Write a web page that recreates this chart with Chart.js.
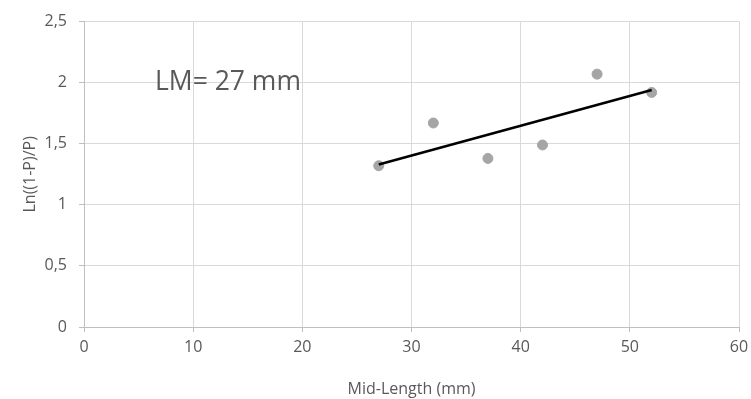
<!DOCTYPE html>
<html>
<head>
<meta charset="utf-8">
<script src="https://cdn.jsdelivr.net/npm/chart.js@4.4.0/dist/chart.umd.min.js"></script>
<style>
    html, body { margin: 0; padding: 0; background: #fff; }
    #wrap { width: 751px; height: 399px; }
</style>
</head>
<body>
<div id="wrap"><canvas id="chart" width="751" height="399"></canvas></div>
<script>
const midLengths = [27, 32, 37, 42, 47, 52];
const lnValues = [1.32, 1.67, 1.38, 1.49, 2.07, 1.92];
const trendX = [27, 52];
const trendY = [1.33, 1.94];
const xTicks = [0, 10, 20, 30, 40, 50, 60];
const yTicks = [0, 0.5, 1, 1.5, 2, 2.5];
const noteText = 'LM= 27 mm';

const font = "'Open Sans', 'DejaVu Sans', sans-serif";
const grey = '#595959';

const notePlugin = {
    id: 'note',
    afterDatasetsDraw(chart) {
        const ctx = chart.ctx;
        const x = chart.scales.x.getPixelForValue(6.5);
        const y = chart.scales.y.getPixelForValue(2.0);
        ctx.save();
        ctx.font = '26.5px ' + font;
        ctx.fillStyle = grey;
        ctx.textBaseline = 'middle';
        ctx.fillText(noteText, x, y);
        ctx.restore();
    }
};

const ctx = document.getElementById('chart').getContext('2d');
new Chart(ctx, {
    type: 'scatter',
    data: {
        datasets: [
            {
                label: 'Trend',
                type: 'line',
                data: trendX.map((x, i) => ({ x: x, y: trendY[i] })),
                borderColor: '#000000',
                borderWidth: 2.5,
                pointRadius: 0,
                fill: false,
                order: 1
            },
            {
                label: 'Data',
                data: midLengths.map((x, i) => ({ x: x, y: lnValues[i] })),
                backgroundColor: '#a5a5a5',
                borderColor: '#a5a5a5',
                pointRadius: 5,
                order: 2
            }
        ]
    },
    options: {
        responsive: false,
        animation: false,
        layout: { padding: { top: 21, right: 12, left: 21, bottom: 0 } },
        plugins: {
            legend: { display: false },
            tooltip: { enabled: false }
        },
        scales: {
            x: {
                type: 'linear',
                min: xTicks[0],
                max: xTicks[xTicks.length - 1],
                afterBuildTicks: (axis) => { axis.ticks = xTicks.map(v => ({ value: v })); },
                afterFit: (axis) => { axis.height = 72; axis.paddingRight = 0; },
                grid: { color: '#d9d9d9', tickLength: 5, tickColor: '#bfbfbf' },
                border: { color: '#bfbfbf' },
                ticks: { color: grey, font: { family: font, size: 16 }, padding: 6 },
                title: {
                    display: true,
                    text: 'Mid-Length (mm)',
                    color: grey,
                    font: { family: font, size: 16 },
                    padding: { top: 4, bottom: 0 }
                }
            },
            y: {
                type: 'linear',
                min: yTicks[0],
                max: yTicks[yTicks.length - 1],
                afterBuildTicks: (axis) => { axis.ticks = yTicks.map(v => ({ value: v })); },
                afterFit: (axis) => { axis.width = 63; },
                grid: { color: '#d9d9d9', tickLength: 5, tickColor: '#bfbfbf' },
                border: { color: '#bfbfbf' },
                ticks: {
                    color: grey,
                    font: { family: font, size: 16 },
                    padding: 12,
                    callback: (value) => String(value).replace('.', ',')
                },
                title: {
                    display: true,
                    text: 'Ln((1-P)/P)',
                    color: grey,
                    font: { family: font, size: 16 },
                    padding: { top: 0, bottom: 4 }
                }
            }
        }
    },
    plugins: [notePlugin]
});
</script>
</body>
</html>
